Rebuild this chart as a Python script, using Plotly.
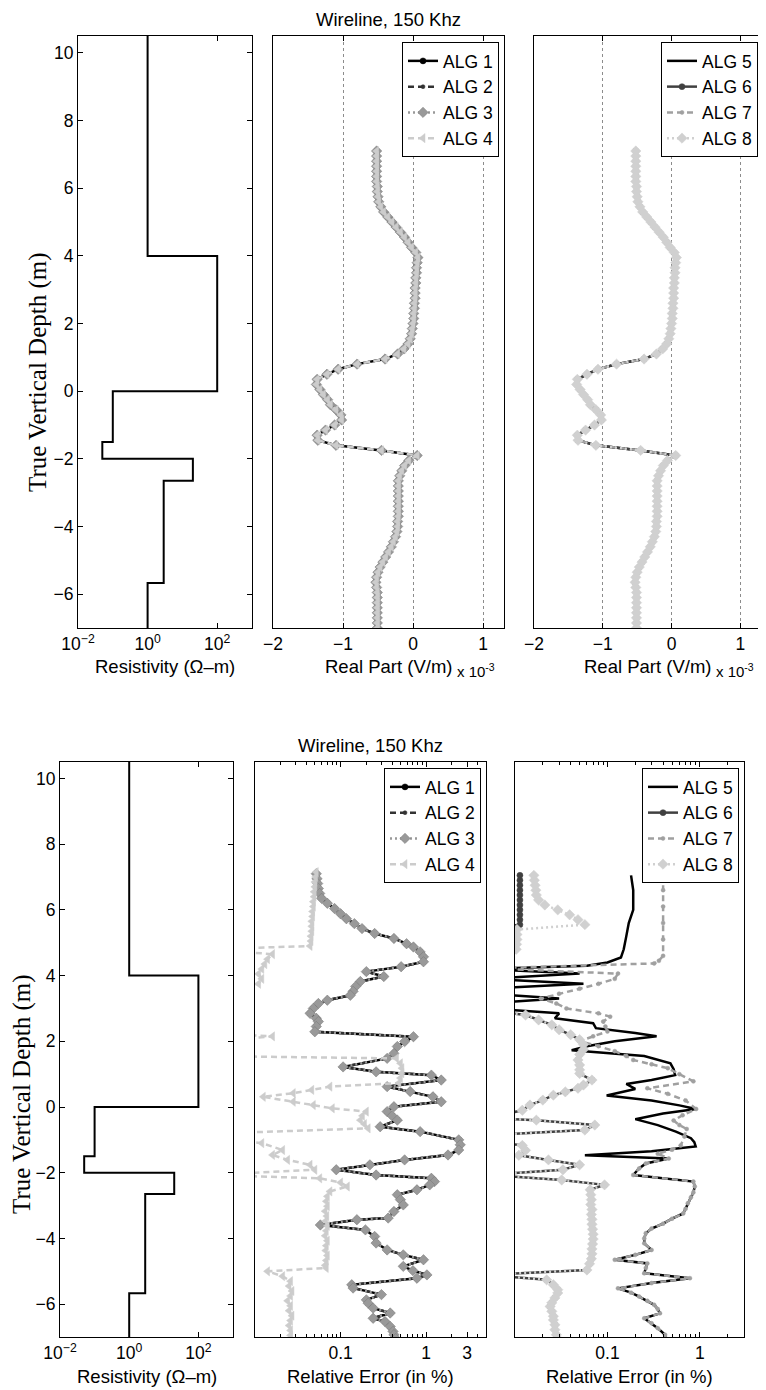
import plotly.graph_objects as go

# page body adds an 8px offset; figure sized so that it fills the 766x1390 window
OFF = 8
W, H = 766 - OFF, 1390 - OFF

# ---------------- data ----------------
# resistivity model: layer boundaries (m) and layer resistivities (ohm-m)
layer_bounds = [10.5, 4.0, 0.0, -1.5, -2.0, -2.65, -5.67, -7.0]
layer_res = [1.0, 100.0, 0.1, 0.05, 20.0, 2.9, 1.0]

# real part of field (x 1e-3 V/m), identical for ALG 1..8
depth_rp = [7.10, 6.95, 6.80, 6.65, 6.50, 6.35, 6.20, 6.05, 5.90, 5.75, 5.60, 5.45, 5.30, 5.15,
            5.00, 4.85, 4.70, 4.55, 4.40, 4.25, 4.10, 3.95, 3.80, 3.65, 3.50, 3.35, 3.20, 3.05,
            2.90, 2.75, 2.60, 2.45, 2.30, 2.15, 2.00, 1.85, 1.70, 1.55, 1.40, 1.25, 1.10, 0.95,
            0.80, 0.65, 0.50, 0.35, 0.20, 0.05, -0.10, -0.25, -0.40, -0.55, -0.70, -0.85, -1.00,
            -1.15, -1.30, -1.45, -1.60, -1.75, -1.90, -2.05, -2.20, -2.35, -2.50, -2.65, -2.80,
            -2.95, -3.10, -3.25, -3.40, -3.55, -3.70, -3.85, -4.00, -4.15, -4.30, -4.45, -4.60,
            -4.75, -4.90, -5.05, -5.20, -5.35, -5.50, -5.65, -5.80, -5.95, -6.10, -6.25, -6.40,
            -6.55, -6.70, -6.85, -7.00]
real_part = [-0.52, -0.52, -0.52, -0.52, -0.52, -0.52, -0.52, -0.51, -0.51, -0.50, -0.49, -0.46,
             -0.42, -0.36, -0.30, -0.24, -0.18, -0.12, -0.07, -0.02, 0.04, 0.07, 0.06, 0.05, 0.05,
             0.04, 0.04, 0.03, 0.03, 0.03, 0.02, 0.02, 0.01, 0.01, 0.00, -0.01, -0.02, -0.04, -0.07,
             -0.13, -0.22, -0.40, -0.80, -1.07, -1.23, -1.37, -1.38, -1.33, -1.28, -1.22, -1.18,
             -1.10, -1.03, -1.02, -1.12, -1.25, -1.37, -1.36, -1.10, -0.45, 0.06, -0.06, -0.12,
             -0.16, -0.19, -0.21, -0.21, -0.21, -0.21, -0.21, -0.21, -0.21, -0.21, -0.22, -0.22,
             -0.23, -0.25, -0.28, -0.31, -0.35, -0.39, -0.43, -0.47, -0.50, -0.52, -0.53, -0.52,
             -0.51, -0.51, -0.51, -0.51, -0.51, -0.51, -0.51, -0.51]

# relative error (%) ALG 1-3
depth_a1 = [7.10, 6.95, 6.80, 6.65, 6.50, 6.35, 6.20, 6.04, 5.88, 5.73, 5.58, 5.43, 5.28, 5.13,
            4.97, 4.87, 4.72, 4.57, 4.42, 4.27, 4.12, 3.97, 3.82, 3.67, 3.52, 3.40, 3.25, 3.15,
            3.00, 2.85, 2.70, 2.60, 2.45, 2.29, 2.14, 1.99, 1.84, 1.63, 1.48, 1.22, 1.07, 0.97,
            0.82, 0.62, 0.47, 0.31, 0.16, 0.01, -0.14, -0.27, -0.40, -0.60, -0.75, -1.00, -1.15,
            -1.31, -1.46, -1.61, -1.76, -1.91, -2.07, -2.17, -2.27, -2.37, -2.52, -2.67, -2.82,
            -2.98, -3.18, -3.38, -3.43, -3.59, -3.74, -3.94, -4.14, -4.35, -4.50, -4.65, -4.85,
            -4.98, -5.11, -5.21, -5.41, -5.51, -5.71, -5.87, -5.97, -6.12, -6.27, -6.43, -6.53,
            -6.68, -6.83, -6.93, -7.05]
err_a1 = [0.052, 0.053, 0.054, 0.055, 0.057, 0.060, 0.070, 0.085, 0.100, 0.117, 0.145, 0.178,
          0.25, 0.42, 0.59, 0.71, 0.85, 0.93, 0.93, 0.51, 0.20, 0.32, 0.17, 0.15, 0.14, 0.13,
          0.07, 0.055, 0.048, 0.044, 0.052, 0.055, 0.052, 0.050, 0.71, 0.56, 0.46, 0.42, 0.35,
          0.107, 0.26, 1.15, 1.5, 0.35, 0.65, 1.2, 1.5, 0.42, 0.35, 0.40, 0.46, 0.29, 0.85,
          2.4, 2.5, 2.4, 1.8, 0.56, 0.22, 0.089, 0.26, 1.15, 1.25, 1.1, 0.78, 0.46, 0.50, 0.54,
          0.42, 0.36, 0.155, 0.058, 0.195, 0.25, 0.26, 0.35, 0.54, 0.93, 0.54, 0.70, 1.02, 0.78,
          0.135, 0.14, 0.30, 0.20, 0.21, 0.24, 0.38, 0.24, 0.33, 0.38, 0.41, 0.42, 0.44]

# relative error (%) ALG 4
depth_a4 = [7.15, 7.00, 6.85, 6.70, 6.55, 6.40, 6.25, 6.10, 5.95, 5.80, 5.65, 5.50, 5.35, 5.20,
            5.05, 4.90, 4.80, 4.65, 4.50, 4.35, 4.20, 4.05, 3.90, 3.75, 3.60, 3.30, 3.00, 2.70,
            2.40, 2.25, 2.15, 2.00, 1.70, 1.55, 1.48, 1.33, 1.18, 1.03, 0.88, 0.73, 0.62, 0.52,
            0.42, 0.31, 0.16, 0.06, -0.04, -0.14, -0.27, -0.40, -0.52, -0.65, -0.80, -0.95, -1.10,
            -1.31, -1.46, -1.61, -1.76, -1.91, -2.07, -2.17, -2.30, -2.42, -2.57, -2.72, -2.87,
            -3.02, -3.17, -3.32, -3.47, -3.62, -3.77, -3.92, -4.07, -4.22, -4.37, -4.52, -4.67,
            -4.82, -4.90, -5.00, -5.15, -5.30, -5.45, -5.60, -5.75, -5.90, -6.05, -6.20, -6.35,
            -6.50, -6.65, -6.80, -6.95, -7.10]
err_a4 = [0.052, 0.051, 0.050, 0.050, 0.049, 0.049, 0.048, 0.048, 0.047, 0.047, 0.046, 0.046,
          0.046, 0.045, 0.045, 0.044, 0.003, 0.016, 0.014, 0.013, 0.012, 0.011, 0.012, 0.011,
          0.004, 0.003, 0.003, 0.003, 0.003, 0.003, 0.016, 0.003, 0.003, 0.003, 0.45, 0.50, 0.52,
          0.52, 0.50, 0.48, 0.075, 0.046, 0.028, 0.0125, 0.028, 0.048, 0.08, 0.20, 0.18, 0.17,
          0.19, 0.21, 0.004, 0.003, 0.012, 0.021, 0.016, 0.024, 0.044, 0.050, 0.003, 0.057, 0.10,
          0.12, 0.075, 0.070, 0.068, 0.070, 0.066, 0.069, 0.067, 0.070, 0.068, 0.066, 0.070,
          0.068, 0.067, 0.070, 0.068, 0.066, 0.068, 0.014, 0.021, 0.026, 0.025, 0.027, 0.026,
          0.024, 0.026, 0.025, 0.027, 0.026, 0.025, 0.026, 0.026, 0.026]

# relative error (%) ALG 5 (upper part) and ALG 7 (upper part)
depth_a5_top = [7.05, 6.60, 6.00, 5.60, 5.20, 4.80, 4.55, 4.40, 4.30, 4.20, 4.06, 3.90, 3.75,
                3.60, 3.45, 3.30, 3.15, 3.00, 2.85, 2.70, 2.55, 2.40, 2.25, 2.15, 2.00, 1.85,
                1.73, 1.55, 1.33, 1.15, 0.97, 0.82, 0.70, 0.55, 0.35, 0.20, 0.05, -0.06, -0.20,
                -0.37, -0.55, -0.75, -0.95, -1.07, -1.20, -1.35, -1.47]
err_a5_top = [0.18, 0.19, 0.19, 0.17, 0.16, 0.15, 0.14, 0.10, 0.06, 0.005, 0.05, 0.005, 0.055,
              0.005, 0.005, 0.03, 0.005, 0.005, 0.03, 0.027, 0.07, 0.075, 0.20, 0.34, 0.12, 0.06,
              0.041, 0.25, 0.48, 0.52, 0.54, 0.30, 0.16, 0.20, 0.098, 0.30, 0.60, 0.91, 0.40,
              0.20, 0.35, 0.55, 0.80, 0.87, 0.90, 0.30, 0.057]
depth_a7_top = [7.05, 6.60, 6.10, 5.60, 5.10, 4.60, 4.45, 4.37, 4.22, 4.06, 3.90, 3.75, 3.60,
                3.45, 3.30, 3.15, 3.00, 2.85, 2.75, 2.60, 2.45, 2.30, 2.15, 2.00, 1.85, 1.70,
                1.55, 1.43, 1.30, 1.18, 1.00, 0.78, 0.57, 0.40, 0.20, -0.06, -0.25, -0.41, -0.55,
                -0.67, -0.90, -1.17, -1.30, -1.42]
err_a7_top = [0.40, 0.40, 0.40, 0.40, 0.40, 0.40, 0.36, 0.32, 0.005, 0.13, 0.12, 0.08, 0.05,
              0.03, 0.019, 0.028, 0.036, 0.08, 0.107, 0.09, 0.095, 0.10, 0.07, 0.05, 0.08, 0.12,
              0.16, 0.19, 0.30, 0.45, 0.60, 0.85, 0.27, 0.45, 0.70, 0.91, 0.65, 0.52, 0.60, 0.72,
              0.68, 0.62, 0.50, 0.35]
# ALG 5 / ALG 7 lower part (coincident)
depth_a57_low = [-1.57, -1.72, -1.87, -2.07, -2.27, -2.42, -2.60, -2.75, -2.93, -3.10, -3.24,
                 -3.40, -3.55, -3.70, -3.84, -4.00, -4.15, -4.35, -4.50, -4.65, -4.76, -4.90,
                 -5.06, -5.21, -5.36, -5.52, -5.65, -5.77, -5.90, -6.02, -6.15, -6.28, -6.43,
                 -6.58, -6.73, -6.93, -7.05]
err_a57_low = [0.46, 0.26, 0.22, 0.19, 0.85, 0.88, 0.85, 0.80, 0.74, 0.70, 0.66, 0.50, 0.40,
               0.30, 0.26, 0.25, 0.25, 0.30, 0.20, 0.12, 0.27, 0.26, 0.25, 0.78, 0.30, 0.13, 0.18,
               0.22, 0.27, 0.32, 0.35, 0.37, 0.25, 0.30, 0.35, 0.42, 0.43]

# ALG 6 (upper part) and ALG 8 (upper part)
depth_a6_top = [7.05, 6.90, 6.75, 6.60, 6.45, 6.30, 6.15, 6.00, 5.85, 5.70, 5.55, 5.40, 4.00,
                2.95]
err_a6_top = [0.0113, 0.0113, 0.0113, 0.0113, 0.0113, 0.0113, 0.0113, 0.0113, 0.0113, 0.0113,
              0.0113, 0.005, 0.005, 0.005]
depth_a8_top = [7.05, 6.90, 6.75, 6.60, 6.45, 6.30, 6.15, 6.00, 5.85, 5.70, 5.55, 5.40, 5.25,
                5.10, 4.95, 4.80, 4.65, 4.00, 2.95]
err_a8_top = [0.016, 0.0162, 0.0165, 0.0168, 0.017, 0.018, 0.021, 0.029, 0.039, 0.048, 0.057,
              0.0105, 0.0105, 0.0105, 0.0104, 0.0103, 0.005, 0.005, 0.005]
# ALG 6 / ALG 8 lower part (coincident)
depth_a68_low = [2.80, 2.65, 2.50, 2.35, 2.20, 2.05, 1.90, 1.75, 1.60, 1.43, 1.28, 1.13, 1.02,
                 0.82, 0.67, 0.57, 0.46, 0.36, 0.21, 0.06, -0.10, -0.33, -0.40, -0.55, -0.70,
                 -0.86, -1.02, -1.17, -1.32, -1.47, -1.61, -1.76, -1.91, -2.07, -2.22, -2.37,
                 -2.52, -2.67, -2.82, -2.97, -3.12, -3.27, -3.42, -3.57, -3.72, -3.87, -4.02,
                 -4.17, -4.32, -4.47, -4.62, -4.77, -4.96, -5.11, -5.26, -5.41, -5.56, -5.66,
                 -5.81, -5.96, -6.07, -6.22, -6.37, -6.48, -6.63, -6.78, -6.93, -7.05]
err_a68_low = [0.013, 0.018, 0.025, 0.030, 0.040, 0.050, 0.055, 0.055, 0.050, 0.048, 0.050,
               0.050, 0.050, 0.068, 0.055, 0.048, 0.035, 0.026, 0.020, 0.0145, 0.012, 0.005,
               0.017, 0.073, 0.057, 0.005, 0.005, 0.012, 0.013, 0.011, 0.023, 0.050, 0.033,
               0.005, 0.032, 0.093, 0.065, 0.066, 0.067, 0.066, 0.068, 0.067, 0.068, 0.068,
               0.069, 0.070, 0.070, 0.069, 0.068, 0.068, 0.067, 0.064, 0.060, 0.005, 0.022,
               0.026, 0.029, 0.029, 0.027, 0.025, 0.024, 0.025, 0.026, 0.026, 0.027, 0.027,
               0.028, 0.029]

# ---------------- helpers (reference pixel -> paper fraction) ----------------
def fx(p):
    return (p - OFF) / W


def fy(p):
    return 1 - (p - OFF) / H


res_x, res_y = [], []
for i, r in enumerate(layer_res):
    res_x += [r, r]
    res_y += [layer_bounds[i], layer_bounds[i + 1]]

FONT = "Liberation Sans"
fig = go.Figure()

# resistivity panels
for ax in ("", "4"):
    fig.add_trace(go.Scatter(x=res_x, y=res_y, mode="lines", line=dict(color="black", width=2),
                             xaxis="x" + ax, yaxis="y" + ax, showlegend=False))

styles = {
    1: dict(color="#000000", dash="solid", symbol="circle", size=6, mcol="#000000"),
    2: dict(color="#333333", dash="6px,4px", symbol="circle", size=4, mcol="#333333"),
    3: dict(color="#999999", dash="2px,3px", symbol="diamond", size=8, mcol="#999999"),
    4: dict(color="#cccccc", dash="6px,4px", symbol="triangle-left", size=8, mcol="#cccccc"),
    5: dict(color="#000000", dash="solid", symbol=None, size=0, mcol="#000000"),
    6: dict(color="#404040", dash="solid", symbol="circle", size=6, mcol="#404040"),
    7: dict(color="#a0a0a0", dash="6px,4px", symbol="circle", size=4, mcol="#a0a0a0"),
    8: dict(color="#d0d0d0", dash="2px,3px", symbol="diamond", size=8, mcol="#d0d0d0"),
}


def add_alg(k, xs, ys, xa, ya, legend, show=True):
    s = styles[k]
    mode = "lines+markers" if s["symbol"] else "lines"
    marker = dict(symbol=s["symbol"], size=s["size"], color=s["mcol"],
                  line=dict(width=0.5, color="#777777" if k in (3,) else s["mcol"])) if s["symbol"] else None
    fig.add_trace(go.Scatter(x=xs, y=ys, mode=mode, name=f"ALG {k}",
                             line=dict(color=s["color"], width=2.5, dash=s["dash"]),
                             marker=marker, xaxis=xa, yaxis=ya, legend=legend,
                             legendgroup=f"g{legend}{k}", showlegend=show))


# top panels: real part
for k in (1, 2, 3, 4):
    add_alg(k, real_part, depth_rp, "x2", "y2", "legend")
for k in (5, 6, 7, 8):
    add_alg(k, real_part, depth_rp, "x3", "y3", "legend2")

# bottom middle: relative errors ALG 1-4
add_alg(1, err_a1, depth_a1, "x5", "y5", "legend3")
add_alg(2, err_a1, depth_a1, "x5", "y5", "legend3")
add_alg(3, err_a1, depth_a1, "x5", "y5", "legend3")
add_alg(4, err_a4, depth_a4, "x5", "y5", "legend3")

# bottom right: relative errors ALG 5-8
add_alg(5, err_a5_top + err_a57_low, depth_a5_top + depth_a57_low, "x6", "y6", "legend4")
add_alg(6, err_a6_top + err_a68_low, depth_a6_top + depth_a68_low, "x6", "y6", "legend4")
add_alg(7, err_a7_top + err_a57_low, depth_a7_top + depth_a57_low, "x6", "y6", "legend4")
add_alg(8, err_a8_top + err_a68_low, depth_a8_top + depth_a68_low, "x6", "y6", "legend4")

# ---------------- layout ----------------
tickfont = dict(family=FONT, size=17.5, color="black")
base = dict(showline=True, linecolor="black", linewidth=1, mirror="ticks", ticks="inside",
            ticklen=5, tickcolor="black", zeroline=False, showgrid=False, tickfont=tickfont,
            automargin=False)

top_y = (fy(628), fy(36))
bot_y = (fy(1337), fy(762))
panels = {
    "": ((78, 252), top_y),
    "2": ((273, 504), top_y),
    "3": ((534, 761), top_y),
    "4": ((60, 233), bot_y),
    "5": ((255, 486), bot_y),
    "6": ((515, 744), bot_y),
}
res_ticks = dict(type="log", range=[-2, 3], tickvals=[0.01, 1, 100],
                 ticktext=["10<sup>−2</sup>", "10<sup>0</sup>", "10<sup>2</sup>"])
real_ticks = dict(range=[-2, 1.3], tickvals=[-2, -1, 0, 1], ticktext=["−2", "−1", "0", "1"],
                  showgrid=True, gridcolor="#8c8c8c", griddash="dot", gridwidth=1)
minor_mid = [0.02, 0.03, 0.04, 0.05, 0.06, 0.07, 0.08, 0.09, 0.2, 0.3, 0.4, 0.5, 0.6, 0.7,
             0.8, 0.9, 2, 4, 5]
minor_right = [0.02, 0.03, 0.04, 0.05, 0.06, 0.07, 0.08, 0.09, 0.2, 0.3, 0.4, 0.5, 0.6, 0.7,
               0.8, 0.9, 2, 3]
err_mid_ticks = dict(type="log", range=[-2, 0.699], tickvals=[0.1, 1, 3], ticktext=["0.1", "1", "3"],
                     minor=dict(tickvals=minor_mid, ticks="inside", ticklen=3, tickcolor="black"))
err_right_ticks = dict(type="log", range=[-2, 0.477], tickvals=[0.1, 1], ticktext=["0.1", "1"],
                       minor=dict(tickvals=minor_right, ticks="inside", ticklen=3, tickcolor="black"))
xspecs = {"": res_ticks, "2": real_ticks, "3": real_ticks, "4": res_ticks,
          "5": err_mid_ticks, "6": err_right_ticks}

layout = dict(width=W, height=H, margin=dict(l=0, r=0, t=0, b=0, autoexpand=False),
              template="none", font=dict(family=FONT, color="black"),
              paper_bgcolor="white", plot_bgcolor="white", showlegend=True)
for ax, ((x0, x1), yd) in panels.items():
    xa = dict(base)
    xa.update(xspecs[ax])
    xa.update(domain=[fx(x0), fx(x1)], anchor="y" + ax)
    ya = dict(base)
    ya.update(range=[-7, 10.5], domain=list(yd), anchor="x" + ax)
    if ax in ("", "4"):
        ya.update(tickvals=[-6, -4, -2, 0, 2, 4, 6, 8, 10],
                  ticktext=["−6", "−4", "−2", "0", "2", "4", "6", "8", "10"])
    else:
        ya.update(ticks="", showticklabels=False, mirror=True)
    layout["xaxis" + ax] = xa
    layout["yaxis" + ax] = ya

leg = dict(bgcolor="white", bordercolor="black", borderwidth=1, xanchor="right", yanchor="top",
           font=dict(family=FONT, size=17.5, color="black"), itemwidth=30, tracegroupgap=0)
layout["legend"] = dict(leg, x=fx(499), y=fy(42))
layout["legend2"] = dict(leg, x=fx(758), y=fy(42))
layout["legend3"] = dict(leg, x=fx(481), y=fy(768))
layout["legend4"] = dict(leg, x=fx(739), y=fy(768))

ann_font = dict(family=FONT, size=18.5, color="black")
annotations = []


def ann(text, x, y, font=ann_font, angle=0, xanchor="center"):
    annotations.append(dict(text=text, x=fx(x), y=fy(y), xref="paper", yref="paper",
                            showarrow=False, font=font, textangle=angle,
                            xanchor=xanchor, yanchor="middle"))


ann("Wireline, 150 Khz", 388, 19)
ann("Wireline, 150 Khz", 370.5, 745)
ann("Resistivity (Ω–m)", 165, 667)
ann("Resistivity (Ω–m)", 146.5, 1376)
ann("Real Part (V/m)", 388, 667)
ann("Real Part (V/m)", 647.5, 667)
ann("x 10<sup>-3</sup>", 455, 670, font=dict(family=FONT, size=15, color="black"), xanchor="left")
ann("x 10<sup>-3</sup>", 714, 670, font=dict(family=FONT, size=15, color="black"), xanchor="left")
ann("Relative Error (in %)", 370.5, 1376)
ann("Relative Error (in %)", 629.5, 1376)
serif = dict(family="Liberation Serif", size=25, color="black")
ann("True Vertical Depth (m)", 38, 372, font=serif, angle=-90)
ann("True Vertical Depth (m)", 22, 1094, font=serif, angle=-90)
layout["annotations"] = annotations

fig.update_layout(**layout)
fig.write_html("out.html")
